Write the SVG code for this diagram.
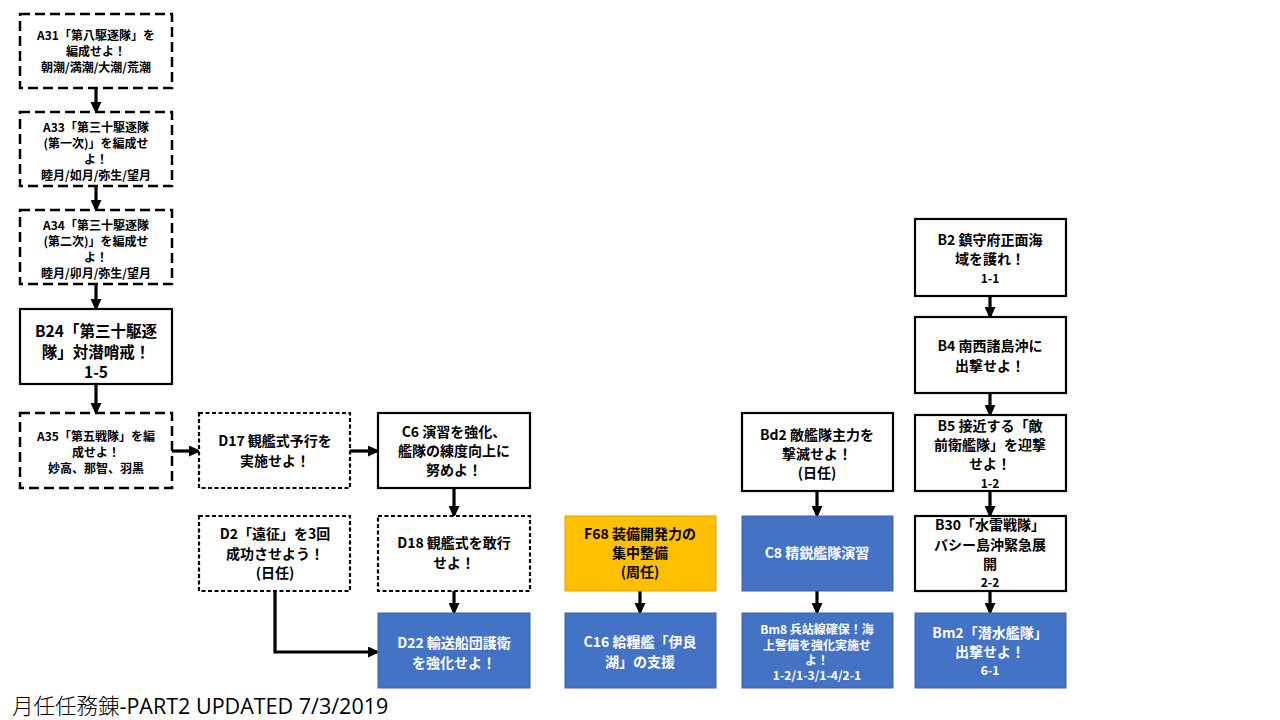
<svg xmlns="http://www.w3.org/2000/svg" width="1280" height="720" viewBox="0 0 1280 720">
<defs>
<marker id="ah" markerWidth="12" markerHeight="11" refX="9" refY="5.5" orient="auto" markerUnits="userSpaceOnUse" viewBox="0 0 12 11">
<path d="M0,0 L12,5.5 L0,11 z" fill="#000"/>
</marker>
</defs>
<style>
rect{stroke-width:2.2}
.w{fill:#fff;stroke:#000}
.dl{stroke-dasharray:10 5;stroke-width:2.5}
.ds{stroke-dasharray:4 2.5}
.b{fill:#4472C4;stroke:#3a62a8;stroke-width:1}
.y{fill:#FFC000;stroke:#d9a300;stroke-width:1}
text{font-family:"Noto Sans CJK JP","Noto Sans",sans-serif;font-weight:bold;text-anchor:middle;fill:#000}
.s{font-size:12px}
.m{font-size:14px}
.l{font-size:15.5px}
.wt{fill:#fff}
.c line,.c polyline{stroke:#000;stroke-width:3.2;fill:none;marker-end:url(#ah)}
</style>
<rect width="1280" height="720" fill="#fff"/>
<g class="c" id="connectors">
<line x1="96" y1="88" x2="96" y2="111"/>
<line x1="96" y1="186" x2="96" y2="209"/>
<line x1="96" y1="284" x2="96" y2="308"/>
<line x1="96" y1="384" x2="96" y2="412"/>
<line x1="172" y1="451" x2="198" y2="451"/>
<line x1="350" y1="451" x2="377" y2="451"/>
<line x1="454" y1="488" x2="454" y2="515"/>
<line x1="454" y1="591" x2="454" y2="612"/>
<polyline points="275,591 275,652 377,652"/>
<line x1="640" y1="591" x2="640" y2="612"/>
<line x1="817" y1="491" x2="817" y2="515"/>
<line x1="817" y1="591" x2="817" y2="612"/>
<line x1="990" y1="296" x2="990" y2="316"/>
<line x1="990" y1="393" x2="990" y2="414"/>
<line x1="990" y1="491" x2="990" y2="515"/>
<line x1="990" y1="591" x2="990" y2="612"/>
</g>
<g id="A31"><rect class="w dl" x="20" y="14" width="152" height="74"/>
<text class="s" x="96" y="40">A31「第八駆逐隊」を</text><text class="s" x="96" y="56">編成せよ！</text><text class="s" x="96" y="72">朝潮/満潮/大潮/荒潮</text></g>
<g id="A33"><rect class="w dl" x="20" y="112" width="152" height="74"/>
<text class="s" x="96" y="132">A33「第三十駆逐隊</text><text class="s" x="96" y="148">(第一次)」を編成せ</text><text class="s" x="96" y="164">よ！</text><text class="s" x="96" y="180">睦月/如月/弥生/望月</text></g>
<g id="A34"><rect class="w dl" x="20" y="210" width="152" height="74"/>
<text class="s" x="96" y="230">A34「第三十駆逐隊</text><text class="s" x="96" y="246">(第二次)」を編成せ</text><text class="s" x="96" y="262">よ！</text><text class="s" x="96" y="278">睦月/卯月/弥生/望月</text></g>
<g id="B24"><rect class="w" x="20" y="309" width="152" height="75"/>
<text class="l" x="96" y="337">B24「第三十駆逐</text><text class="l" x="96" y="358">隊」対潜哨戒！</text><text class="l" x="96" y="378">1-5</text></g>
<g id="A35"><rect class="w dl" x="20" y="413" width="152" height="75"/>
<text class="s" x="96" y="441">A35「第五戦隊」を編</text><text class="s" x="96" y="457">成せよ！</text><text class="s" x="96" y="473">妙高、那智、羽黒</text></g>
<g id="D17"><rect class="w ds" x="199" y="413" width="151" height="75"/>
<text class="m" x="275" y="446">D17 観艦式予行を</text><text class="m" x="275" y="466">実施せよ！</text></g>
<g id="C6"><rect class="w" x="378" y="413" width="152" height="75"/>
<text class="m" x="454" y="437">C6 演習を強化、</text><text class="m" x="454" y="456">艦隊の練度向上に</text><text class="m" x="454" y="475">努めよ！</text></g>
<g id="D2"><rect class="w ds" x="199" y="516" width="151" height="75"/>
<text class="m" x="275" y="539">D2「遠征」を3回</text><text class="m" x="275" y="559">成功させよう！</text><text class="m" x="275" y="578">(日任)</text></g>
<g id="D18"><rect class="w ds" x="378" y="516" width="152" height="75"/>
<text class="m" x="454" y="548">D18 観艦式を敢行</text><text class="m" x="454" y="568">せよ！</text></g>
<g id="D22"><rect class="b" x="378" y="613" width="152" height="75"/>
<text class="m wt" x="454" y="648">D22 輸送船団護衛</text><text class="m wt" x="454" y="668">を強化せよ！</text></g>
<g id="F68"><rect class="y" x="565" y="516" width="151" height="75"/>
<text class="m" x="640" y="539">F68 装備開発力の</text><text class="m" x="640" y="558">集中整備</text><text class="m" x="640" y="577">(周任)</text></g>
<g id="C16"><rect class="b" x="565" y="613" width="151" height="75"/>
<text class="m wt" x="640" y="647">C16 給糧艦「伊良</text><text class="m wt" x="640" y="667">湖」の支援</text></g>
<g id="Bd2"><rect class="w" x="742" y="413" width="151" height="78"/>
<text class="m" x="817" y="440">Bd2 敵艦隊主力を</text><text class="m" x="817" y="459">撃滅せよ！</text><text class="m" x="817" y="478">(日任)</text></g>
<g id="C8"><rect class="b" x="742" y="516" width="151" height="75"/>
<text class="m wt" x="817" y="558">C8 精鋭艦隊演習</text></g>
<g id="Bm8"><rect class="b" x="742" y="613" width="151" height="75"/>
<text class="s wt" x="817" y="634">Bm8 兵站線確保！海</text><text class="s wt" x="817" y="650">上警備を強化実施せ</text><text class="s wt" x="817" y="665">よ！</text><text class="s wt" x="817" y="680">1-2/1-3/1-4/2-1</text></g>
<g id="B2"><rect class="w" x="915" y="219" width="151" height="77"/>
<text class="m" x="990" y="245">B2 鎮守府正面海</text><text class="m" x="990" y="264">域を護れ！</text><text class="s" x="990" y="283">1-1</text></g>
<g id="B4"><rect class="w" x="915" y="317" width="151" height="76"/>
<text class="m" x="990" y="351">B4 南西諸島沖に</text><text class="m" x="990" y="371">出撃せよ！</text></g>
<g id="B5"><rect class="w" x="915" y="415" width="151" height="76"/>
<text class="m" x="990" y="431">B5 接近する「敵</text><text class="m" x="990" y="450">前衛艦隊」を迎撃</text><text class="m" x="990" y="469">せよ！</text><text class="s" x="990" y="488">1-2</text></g>
<g id="B30"><rect class="w" x="915" y="516" width="151" height="75"/>
<text class="m" x="990" y="530">B30「水雷戦隊」</text><text class="m" x="990" y="550">バシー島沖緊急展</text><text class="m" x="990" y="569">開</text><text class="s" x="990" y="587">2-2</text></g>
<g id="Bm2"><rect class="b" x="915" y="613" width="151" height="75"/>
<text class="m wt" x="990" y="638">Bm2「潜水艦隊」</text><text class="m wt" x="990" y="657">出撃せよ！</text><text class="s wt" x="990" y="675">6-1</text></g>
<text x="12" y="714" style="font-family:'Open Sans','Noto Sans CJK JP',sans-serif;font-weight:normal;font-size:21.5px;text-anchor:start"><tspan style="font-family:'Noto Sans CJK JP',sans-serif;font-weight:300">月任任務錬</tspan>-PART2 UPDATED 7/3/2019</text>
</svg>
